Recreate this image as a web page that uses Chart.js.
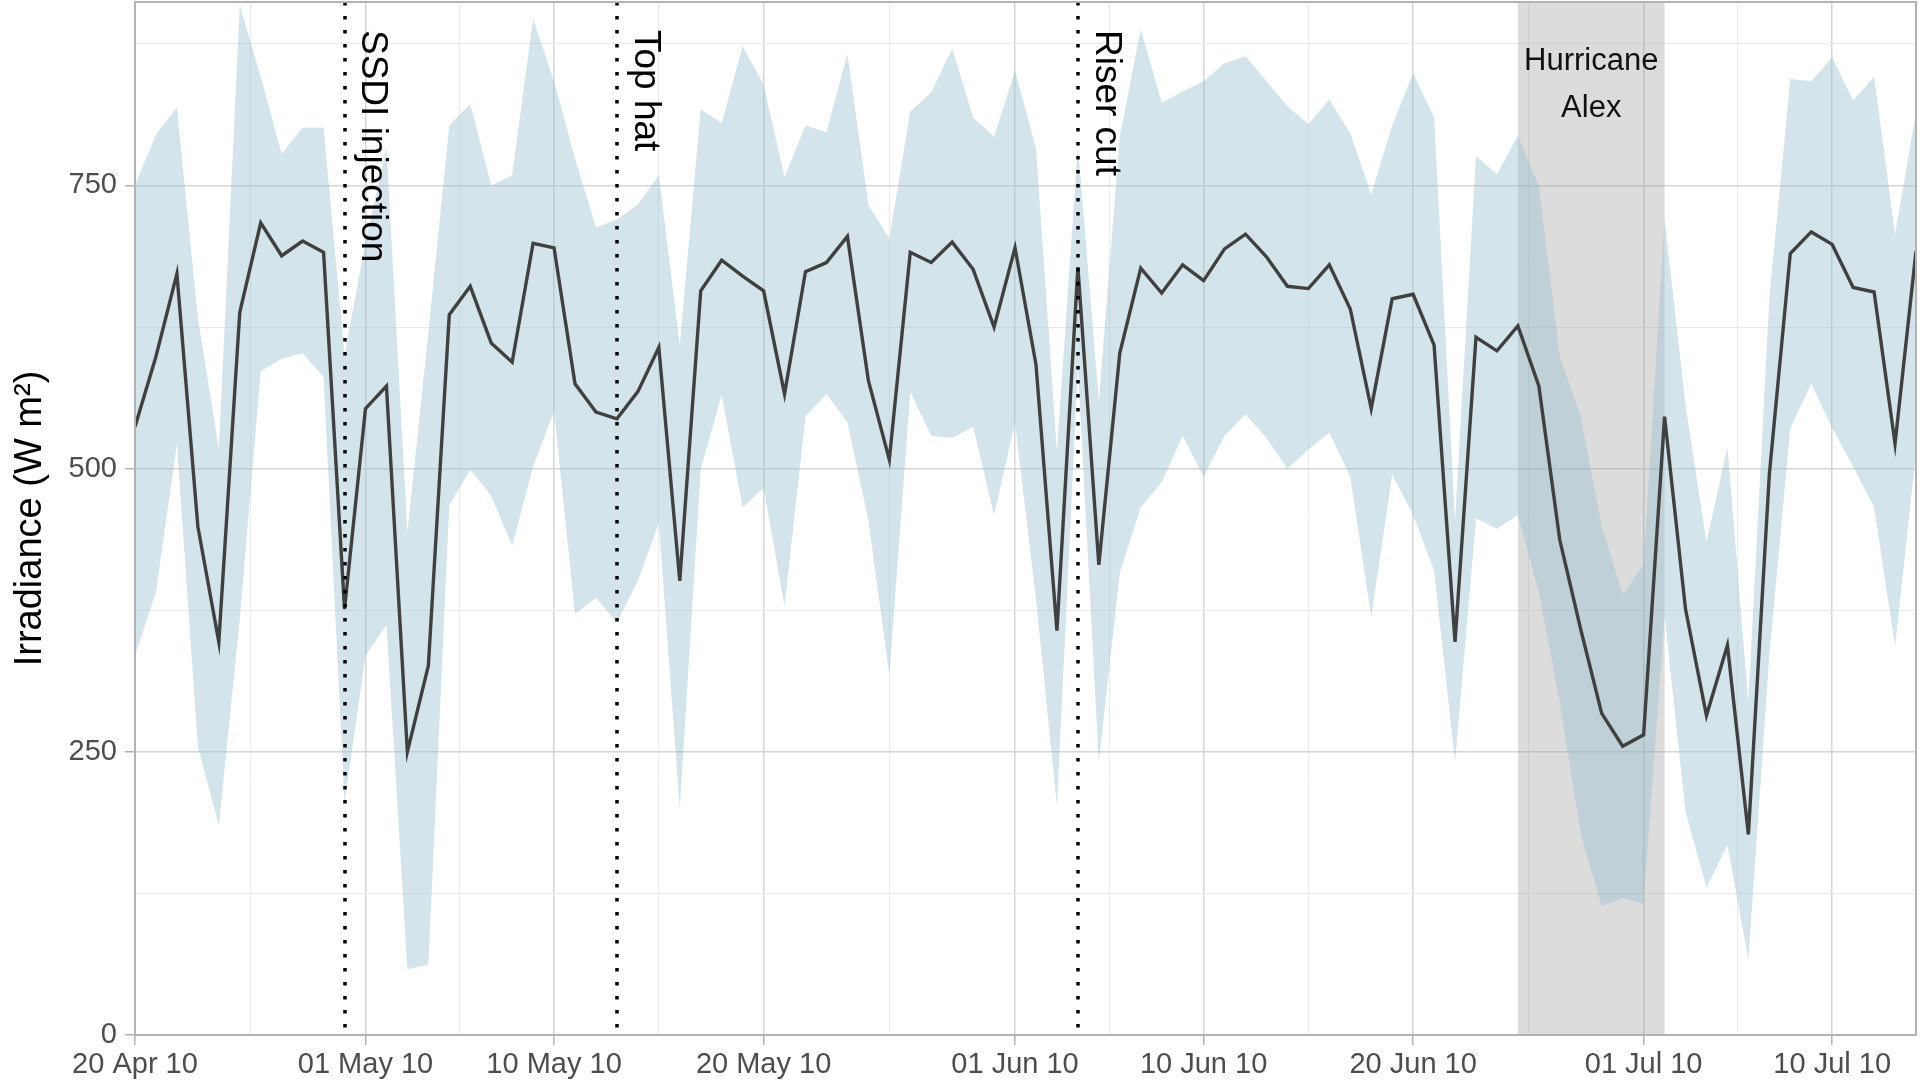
<!DOCTYPE html>
<html>
<head>
<meta charset="utf-8">
<title>Irradiance</title>
<script src="https://cdn.jsdelivr.net/npm/chart.js@4.4.0/dist/chart.umd.min.js"></script>
<style>
  html, body { margin: 0; padding: 0; background: #ffffff; }
  #wrap { width: 1920px; height: 1084px; position: relative; }
</style>
</head>
<body>
<div id="wrap"><canvas id="irradiance"></canvas></div>
<script>
// daily values from 20 Apr 2010, one per day
const startDate = '2010-04-20';
const irradianceMean = [
  537, 599, 672, 449, 347, 638, 717, 688, 701, 691,
  376, 553, 573, 250, 326, 636, 661, 611, 594, 699,
  695, 575, 550, 544, 568, 607, 401, 657, 684, 670,
  657, 566, 674, 682, 705, 578, 508, 691, 682, 700,
  676, 625, 695, 592, 357, 678, 415, 602, 677, 655,
  680, 666, 694, 707, 687, 661, 659, 680, 641, 553,
  650, 654, 609, 347, 616, 604, 626, 573, 437, 358,
  284, 255, 265, 546, 376, 282, 344, 177, 495, 690,
  709, 698, 660, 656, 522, 692
];
const irradianceUpper = [
  750, 795, 819, 633, 517, 909, 846, 778, 801, 801,
  600, 700, 783, 444, 620, 803, 822, 750, 759, 897,
  842, 774, 713, 720, 733, 759, 609, 817, 805, 873,
  839, 757, 803, 797, 866, 733, 703, 815, 832, 871,
  810, 793, 851, 783, 515, 785, 560, 793, 888, 823,
  833, 842, 858, 864, 842, 820, 804, 826, 796, 742,
  803, 849, 810, 455, 776, 760, 794, 750, 599, 546,
  449, 389, 415, 720, 556, 435, 519, 294, 650, 844,
  842, 863, 825, 846, 706, 815
];
const irradianceLower = [
  335, 391, 522, 255, 185, 367, 586, 597, 602, 581,
  205, 335, 362, 58, 62, 468, 499, 476, 432, 502,
  551, 372, 386, 364, 401, 452, 200, 500, 565, 466,
  483, 379, 546, 566, 541, 455, 318, 568, 529, 527,
  537, 459, 541, 385, 202, 590, 241, 408, 466, 488,
  529, 493, 529, 548, 527, 500, 517, 532, 493, 369,
  495, 459, 410, 241, 456, 447, 459, 391, 294, 178,
  114, 121, 116, 370, 197, 130, 168, 67, 335, 536,
  575, 536, 502, 466, 343, 515
];

const tickDates = ['2010-04-20', '2010-05-01', '2010-05-10', '2010-05-20', '2010-06-01',
                   '2010-06-10', '2010-06-20', '2010-07-01', '2010-07-10'];
const tickLabels = ['20 Apr 10', '01 May 10', '10 May 10', '20 May 10', '01 Jun 10',
                    '10 Jun 10', '20 Jun 10', '01 Jul 10', '10 Jul 10'];
const yTicks = [0, 250, 500, 750];
const yMinorTicks = [125, 375, 625, 875];

const eventDates = ['2010-04-30', '2010-05-13', '2010-06-04'];
const eventLabels = ['SSDI injection', 'Top hat', 'Riser cut'];
const hurricaneDates = ['2010-06-25', '2010-07-02'];
const hurricaneLabel = ['Hurricane', 'Alex'];

const FONT = '"Liberation Sans", Arial, Helvetica, sans-serif';

function dayIndex(s) {
  return Math.round((Date.parse(s) - Date.parse(startDate)) / 86400000);
}

const days = irradianceMean.map((v, i) => i);
const xMajor = tickDates.map(dayIndex);
const xMinor = [];
for (let i = 1; i < xMajor.length; i++) {
  xMinor.push((xMajor[i - 1] + xMajor[i]) / 2);
}

function toPoints(values) {
  return values.map((v, i) => ({ x: days[i], y: v }));
}

const annotate = {
  id: 'annotate',
  beforeDatasetsDraw(chart) {
    const { ctx, chartArea, scales: { x } } = chart;
    const x0 = x.getPixelForValue(dayIndex(hurricaneDates[0]));
    const x1 = x.getPixelForValue(dayIndex(hurricaneDates[1]));
    ctx.save();
    ctx.fillStyle = 'rgba(150, 150, 150, 0.33)';
    ctx.fillRect(x0, chartArea.top, x1 - x0, chartArea.bottom - chartArea.top);
    ctx.restore();
  },
  afterDatasetsDraw(chart) {
    const { ctx, chartArea, scales: { x } } = chart;
    ctx.save();

    // event lines
    ctx.strokeStyle = '#000000';
    ctx.lineWidth = 3.5;
    ctx.lineCap = 'butt';
    ctx.setLineDash([3.5, 10.5]);
    eventDates.forEach((d) => {
      const px = Math.round(x.getPixelForValue(dayIndex(d)));
      ctx.beginPath();
      ctx.moveTo(px, chartArea.top);
      ctx.lineTo(px, chartArea.bottom);
      ctx.stroke();
    });
    ctx.setLineDash([]);

    // event labels, reading downwards
    ctx.fillStyle = '#000000';
    ctx.font = '37px ' + FONT;
    ctx.textAlign = 'left';
    ctx.textBaseline = 'middle';
    eventDates.forEach((d, i) => {
      const px = x.getPixelForValue(dayIndex(d));
      ctx.save();
      ctx.translate(px + 28, chartArea.top + 28);
      ctx.rotate(Math.PI / 2);
      ctx.fillText(eventLabels[i], 0, 0);
      ctx.restore();
    });

    // hurricane label
    const mid = (x.getPixelForValue(dayIndex(hurricaneDates[0])) +
                 x.getPixelForValue(dayIndex(hurricaneDates[1]))) / 2;
    ctx.font = '31px ' + FONT;
    ctx.textAlign = 'center';
    ctx.fillStyle = '#111111';
    ctx.fillText(hurricaneLabel[0], mid, chartArea.top + 59);
    ctx.fillText(hurricaneLabel[1], mid, chartArea.top + 106);

    // panel border
    ctx.strokeStyle = '#b3b3b3';
    ctx.lineWidth = 2;
    ctx.strokeRect(chartArea.left, chartArea.top,
                   chartArea.right - chartArea.left, chartArea.bottom - chartArea.top);
    ctx.restore();
  }
};

const ctx = document.getElementById('irradiance').getContext('2d');

new Chart(ctx, {
  type: 'line',
  data: {
    datasets: [
      {
        label: 'mean',
        data: toPoints(irradianceMean),
        borderColor: '#404040',
        borderWidth: 3.4,
        pointRadius: 0,
        tension: 0,
        fill: false
      },
      {
        label: 'upper',
        data: toPoints(irradianceUpper),
        borderWidth: 0,
        borderColor: 'rgba(0,0,0,0)',
        backgroundColor: 'rgba(150, 190, 204, 0.42)',
        pointRadius: 0,
        tension: 0,
        fill: '+1'
      },
      {
        label: 'lower',
        data: toPoints(irradianceLower),
        borderWidth: 0,
        borderColor: 'rgba(0,0,0,0)',
        pointRadius: 0,
        tension: 0,
        fill: false
      }
    ]
  },
  options: {
    responsive: true,
    maintainAspectRatio: false,
    animation: false,
    layout: {
      padding: { left: 8, right: 4, top: 2, bottom: 0 }
    },
    plugins: {
      legend: { display: false },
      tooltip: { enabled: false }
    },
    scales: {
      x: {
        type: 'linear',
        min: 0,
        max: days[days.length - 1],
        border: { display: false },
        afterBuildTicks: (scale) => {
          scale.ticks = xMajor.concat(xMinor).sort((a, b) => a - b).map((v) => ({ value: v }));
        },
        afterFit: (scale) => {
          scale.height = 49;
          scale.paddingLeft = 0;
          scale.paddingRight = 0;
        },
        grid: {
          color: (c) => xMajor.includes(c.tick.value) ? '#d6d6d6' : '#ebebeb',
          lineWidth: (c) => xMajor.includes(c.tick.value) ? 1.5 : 1,
          drawTicks: true,
          tickLength: 10,
          tickWidth: 1.5,
          tickColor: (c) => xMajor.includes(c.tick.value) ? '#b3b3b3' : 'rgba(0,0,0,0)'
        },
        ticks: {
          autoSkip: false,
          maxRotation: 0,
          minRotation: 0,
          padding: 3,
          color: '#4d4d4d',
          font: { family: FONT, size: 29 },
          callback: (value) => {
            const i = xMajor.indexOf(value);
            return i >= 0 ? tickLabels[i] : '';
          }
        }
      },
      y: {
        type: 'linear',
        min: 0,
        max: 912,
        border: { display: false },
        afterBuildTicks: (scale) => {
          scale.ticks = yTicks.concat(yMinorTicks).sort((a, b) => a - b).map((v) => ({ value: v }));
        },
        afterFit: (scale) => {
          scale.width = 127;
          scale.paddingTop = 0;
          scale.paddingBottom = 0;
        },
        grid: {
          color: (c) => yTicks.includes(c.tick.value) ? '#d6d6d6' : '#ebebeb',
          lineWidth: (c) => yTicks.includes(c.tick.value) ? 1.5 : 1,
          drawTicks: true,
          tickLength: 10,
          tickWidth: 1.5,
          tickColor: (c) => yTicks.includes(c.tick.value) ? '#b3b3b3' : 'rgba(0,0,0,0)'
        },
        ticks: {
          autoSkip: false,
          padding: 8,
          color: '#4d4d4d',
          font: { family: FONT, size: 29 },
          callback: (value) => yTicks.includes(value) ? String(value) : ''
        },
        title: {
          display: true,
          text: 'Irradiance (W m²)',
          color: '#000000',
          font: { family: FONT, size: 38 },
          padding: { top: 0, bottom: 6 }
        }
      }
    }
  },
  plugins: [annotate]
});
</script>
</body>
</html>
